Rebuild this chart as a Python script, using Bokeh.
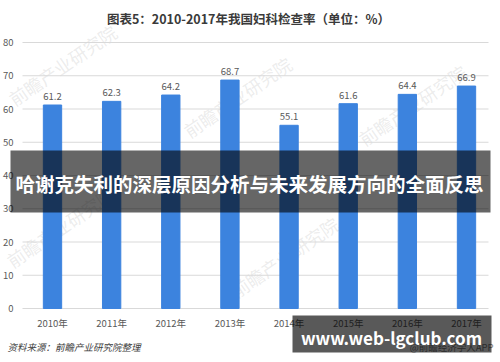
from bokeh.plotting import figure
from bokeh.models import ColumnDataSource, FixedTicker, BoxAnnotation, Label, LinearAxis
from bokeh.embed import file_html
from bokeh.resources import INLINE
from bokeh.core.properties import value

# ---- data ----
years = ["2010年", "2011年", "2012年", "2013年", "2014年", "2015年", "2016年", "2017年"]
rates = [61.2, 62.3, 64.2, 68.7, 55.1, 61.6, 64.4, 66.9]
y_ticks = [0, 10, 20, 30, 40, 50, 60, 70, 80]
title_text = "图表5：2010-2017年我国妇科检查率（单位：%）"
overlay_text = "哈谢克失利的深层原因分析与未来发展方向的全面反思"
footer_url = "www.web-lgclub.com"
source_text = "资料来源：前瞻产业研究院整理"
credit_text = "@前瞻经济学人APP"
watermark_text = "前瞻产业研究院"

FONT = "Noto Sans CJK SC"
GREY = "#595959"

# ---- layout constants (pixels) ----
W, H = 500, 362
first_px, step_px = 52.0, 59.143      # bar centre of first category, spacing
zero_px, unit_px = 308.0, 3.325       # pixel row of value 0, pixels per unit
grid_left_px, grid_right_px = 22.0, 488.0

x_start = -first_px / step_px
x_end = (W - first_px) / step_px
y_end = zero_px / unit_px
y_start = -(H - zero_px) / unit_px
grid_x0 = (grid_left_px - first_px) / step_px
grid_x1 = (grid_right_px - first_px) / step_px

idx = list(range(len(years)))
src = ColumnDataSource(dict(x=idx, top=rates, label=[f"{v:.1f}" for v in rates]))
grid_src = ColumnDataSource(dict(y=y_ticks, x0=[grid_x0] * len(y_ticks), x1=[grid_x1] * len(y_ticks)))

p = figure(width=W, height=H, x_range=(x_start, x_end), y_range=(y_start, y_end),
           output_backend="svg", toolbar_location=None,
           x_axis_location=None, y_axis_location=None,
           min_border_left=0, min_border_right=0, min_border_bottom=0, min_border_top=0)
p.outline_line_color = None
p.background_fill_color = "white"
p.border_fill_color = "white"
p.xgrid.visible = False
p.ygrid.visible = False

yaxis = LinearAxis(ticker=FixedTicker(ticks=y_ticks), fixed_location=grid_x0)
xaxis = LinearAxis(ticker=FixedTicker(ticks=idx), fixed_location=0,
                   major_label_overrides={i: y for i, y in zip(idx, years)})
for ax in (xaxis, yaxis):
    ax.axis_line_color = None
    ax.major_tick_line_color = None
    ax.minor_tick_line_color = None
    ax.major_tick_out = 0
    ax.major_tick_in = 0
    ax.minor_tick_out = 0
    ax.minor_tick_in = 0
    ax.major_label_text_font = FONT
    ax.major_label_text_font_size = "9.5px"
    ax.major_label_text_color = GREY
yaxis.major_label_standoff = 9
xaxis.major_label_standoff = 7
p.add_layout(yaxis, "left")
p.add_layout(xaxis, "below")

# title
p.add_layout(Label(x=248, y=18, x_units="canvas", y_units="canvas", text=title_text,
                   text_font=FONT, text_font_size="12.5px", text_font_style="bold",
                   text_color="#3a3a3a", text_align="center", text_baseline="middle"))

# watermarks (very faint)
for (wx, wy) in [(10, 100), (185, 132), (360, 140), (232, 292), (8, 262)]:
    p.add_layout(Label(x=wx, y=wy, x_units="canvas", y_units="canvas", text=watermark_text,
                       angle=0.6, text_font=FONT, text_font_size="18px", text_color="#bfbfbf",
                       text_alpha=0.3, text_baseline="middle", level="underlay"))

# grid lines
p.segment(x0="x0", x1="x1", y0="y", y1="y", source=grid_src, line_color="#d9d9d9", line_width=1)

# bars and value labels
p.vbar(x="x", top="top", width=0.31, source=src, color="#3c83de")
p.text(x="x", y="top", text="label", source=src, y_offset=-5, text_align="center",
       text_baseline="bottom", text_font=value(FONT), text_font_size="9.5px", text_color=GREY)

# footer texts
p.add_layout(Label(x=7, y=346, x_units="canvas", y_units="canvas", text=source_text,
                   text_font=FONT, text_font_size="9.5px", text_font_style="italic",
                   text_color="#404040", text_baseline="middle"))
p.add_layout(Label(x=493, y=346, x_units="canvas", y_units="canvas", text=credit_text,
                   text_font=FONT, text_font_size="9.5px", text_color="#808080",
                   text_align="right", text_baseline="middle"))

# overlay banners
p.add_layout(BoxAnnotation(left=10, right=490, top=150, bottom=212,
                           left_units="canvas", right_units="canvas", top_units="canvas", bottom_units="canvas",
                           fill_color="black", fill_alpha=0.6, line_color=None, level="overlay"))
p.add_layout(Label(x=249, y=183, x_units="canvas", y_units="canvas", text=overlay_text,
                   text_font=FONT, text_font_size="19.5px", text_font_style="bold",
                   text_color="white", text_align="center", text_baseline="middle", level="overlay"))
p.add_layout(BoxAnnotation(left=292, right=491, top=315, bottom=352,
                           left_units="canvas", right_units="canvas", top_units="canvas", bottom_units="canvas",
                           fill_color="black", fill_alpha=0.65, line_color=None, level="overlay"))
p.add_layout(Label(x=391, y=337, x_units="canvas", y_units="canvas", text=footer_url,
                   text_font=FONT, text_font_size="17px", text_font_style="bold",
                   text_color="white", text_align="center", text_baseline="middle", level="overlay"))

open("out.html", "w").write(file_html(p, INLINE))
